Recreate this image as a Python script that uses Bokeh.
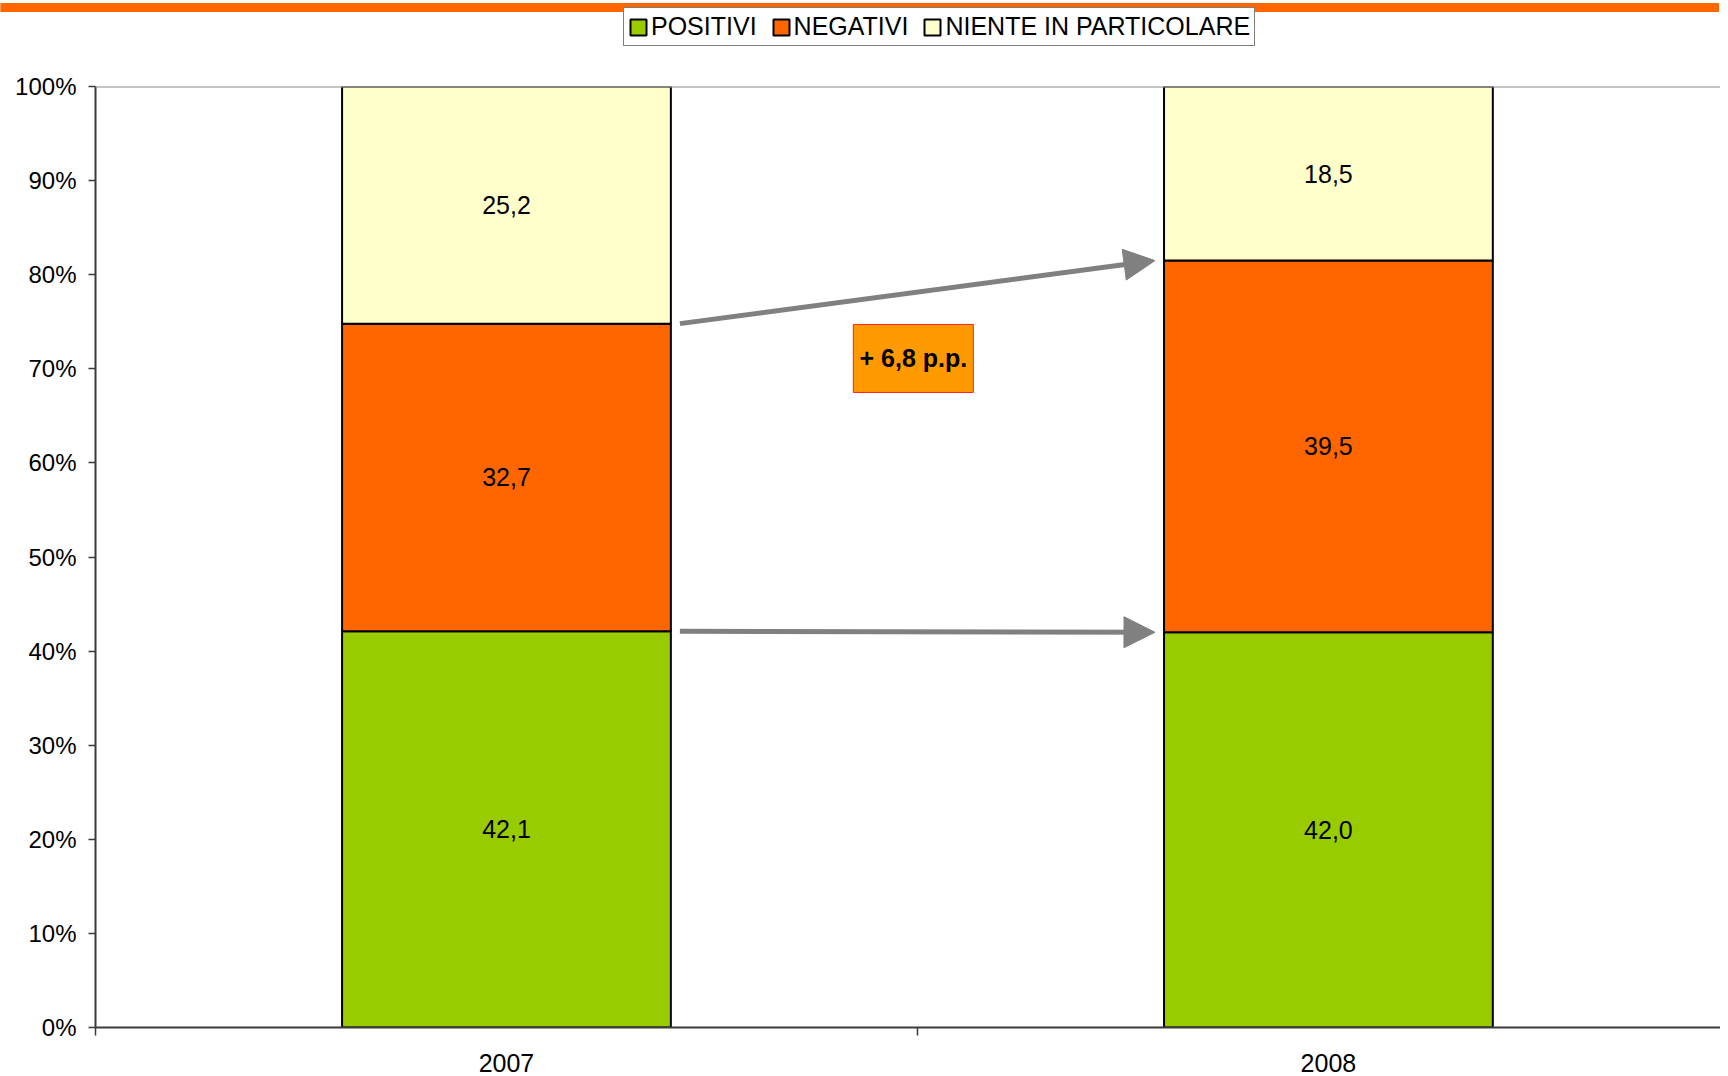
from bokeh.plotting import figure
from bokeh.models import (Range1d, FixedTicker, PrintfTickFormatter, Legend, LegendItem,
                          Span, Arrow, NormalHead, ColumnDataSource)
from bokeh.layouts import column
from bokeh.embed import file_html
from bokeh.resources import INLINE
from bokeh.core.properties import value

# ---------------- data ----------------
categories = ["2007", "2008"]
series_names = ["POSITIVI", "NEGATIVI", "NIENTE IN PARTICOLARE"]
positivi = [42.1, 42.0]
negativi = [32.7, 39.5]
niente = [25.2, 18.5]
y_ticks = [0, 10, 20, 30, 40, 50, 60, 70, 80, 90, 100]

# ---------------- styles ----------------
colors = ["#99CC00", "#FF6600", "#FFFFCC"]
FONT = "Liberation Sans"
AXIS_COL = "#3a3a3a"
ARROW_COL = "#808080"
W = 1720
TOP_H = 56
MAIN_H = 1019


def fmt(v):
    return f"{v:.1f}".replace(".", ",")


xs = [i + 0.5 for i in range(len(categories))]
bar_w = 0.4
source = ColumnDataSource(dict(x=xs, pos=positivi, neg=negativi, nie=niente))

# ---------------- top strip: orange rule + legend ----------------
p0 = figure(width=W, height=TOP_H, x_range=Range1d(0, W), y_range=Range1d(TOP_H, 0),
            output_backend="svg", toolbar_location=None, min_border=0,
            x_axis_location=None, y_axis_location=None)
p0.outline_line_color = None
p0.grid.visible = False
p0.quad(left=0, right=1718, bottom=11, top=3, color="#FF6600")
leg_renderers = p0.vbar_stack(["pos", "neg", "nie"], x="x", width=bar_w, source=source,
                              fill_color=colors, line_color="black", line_width=2,
                              visible=False)
legend = Legend(items=[LegendItem(label=n, renderers=[r]) for n, r in zip(series_names, leg_renderers)],
                orientation="horizontal", location=(623, 10), margin=0, padding=4,
                spacing=14, label_standoff=3, glyph_width=20, glyph_height=20,
                label_text_font=FONT, label_text_font_size="25px", label_text_color="black",
                border_line_color="black", border_line_width=1,
                background_fill_color="white", background_fill_alpha=1.0,
                click_policy="none")
p0.add_layout(legend)

# ---------------- main chart ----------------
p = figure(width=W, height=MAIN_H, x_range=Range1d(0, 1.977), y_range=Range1d(0, 100),
           output_backend="svg", toolbar_location=None,
           min_border_left=95, min_border_right=0, min_border_top=30, min_border_bottom=48)
p.outline_line_color = None
p.xgrid.visible = False
p.ygrid.visible = False

# do not align the frames of the two stacked figures
for fig in (p0, p):
    if "frame_align" in fig.properties():
        fig.frame_align = False

renderers = p.vbar_stack(["pos", "neg", "nie"], x="x", width=bar_w, source=source,
                         fill_color=colors, line_color="black", line_width=2)

# value labels inside segments
lx, ly, lt = [], [], []
for i in range(len(categories)):
    base = 0.0
    for vals in (positivi, negativi, niente):
        v = vals[i]
        lx.append(xs[i])
        ly.append(base + v / 2)
        lt.append(fmt(v))
        base += v
p.text(x=lx, y=ly, text=lt, text_font=value(FONT), text_font_size="25px",
       text_align="center", text_baseline="middle", text_color="black")

# top line at 100%
p.add_layout(Span(location=100, dimension="width", line_color="#8a8a8a", line_width=2))

# arrows between bars
gap = 0.011
cum07 = [positivi[0], positivi[0] + negativi[0]]
cum08 = [positivi[1], positivi[1] + negativi[1]]
for a, b in zip(cum07, cum08):
    p.add_layout(Arrow(end=NormalHead(size=31, fill_color=ARROW_COL, line_color=ARROW_COL),
                       x_start=xs[0] + bar_w / 2 + gap, y_start=a,
                       x_end=xs[1] - bar_w / 2 - gap, y_end=b,
                       line_color=ARROW_COL, line_width=5))

# callout box
diff = negativi[1] - negativi[0]
callout_x, callout_y = 0.995, 71.1
p.rect(x=[callout_x], y=[callout_y], width=120, height=68, width_units="screen",
       height_units="screen", fill_color="#FF9900", line_color="#FF2020", line_width=1)
p.text(x=[callout_x], y=[callout_y], text=["+ " + fmt(diff) + " p.p."], text_font=value(FONT),
       text_font_size="25px", text_font_style="bold", text_align="center",
       text_baseline="middle", text_color="black")

# y axis
yax = p.yaxis[0]
yax.ticker = FixedTicker(ticks=y_ticks)
yax.formatter = PrintfTickFormatter(format="%d%%")
yax.axis_line_color = AXIS_COL
yax.axis_line_width = 2
yax.major_tick_line_color = AXIS_COL
yax.major_tick_line_width = 1.5
yax.major_tick_out = 7
yax.major_tick_in = 0
yax.minor_tick_line_color = None
yax.major_label_standoff = 12
yax.major_label_text_font = FONT
yax.major_label_text_font_size = "24px"
yax.major_label_text_color = "black"

# x axis
xax = p.xaxis[0]
xax.ticker = FixedTicker(ticks=xs, minor_ticks=[0, 1, 2])
xax.major_label_overrides = {x: c for x, c in zip(xs, categories)}
xax.axis_line_color = AXIS_COL
xax.axis_line_width = 2
xax.major_tick_line_color = None
xax.major_tick_out = 0
xax.major_tick_in = 0
xax.minor_tick_line_color = AXIS_COL
xax.minor_tick_line_width = 1.5
xax.minor_tick_out = 8
xax.minor_tick_in = 0
xax.major_label_standoff = 18
xax.major_label_text_font = FONT
xax.major_label_text_font_size = "25px"
xax.major_label_text_color = "black"

layout = column(p0, p, spacing=0)
open("out.html", "w").write(file_html(layout, INLINE))
